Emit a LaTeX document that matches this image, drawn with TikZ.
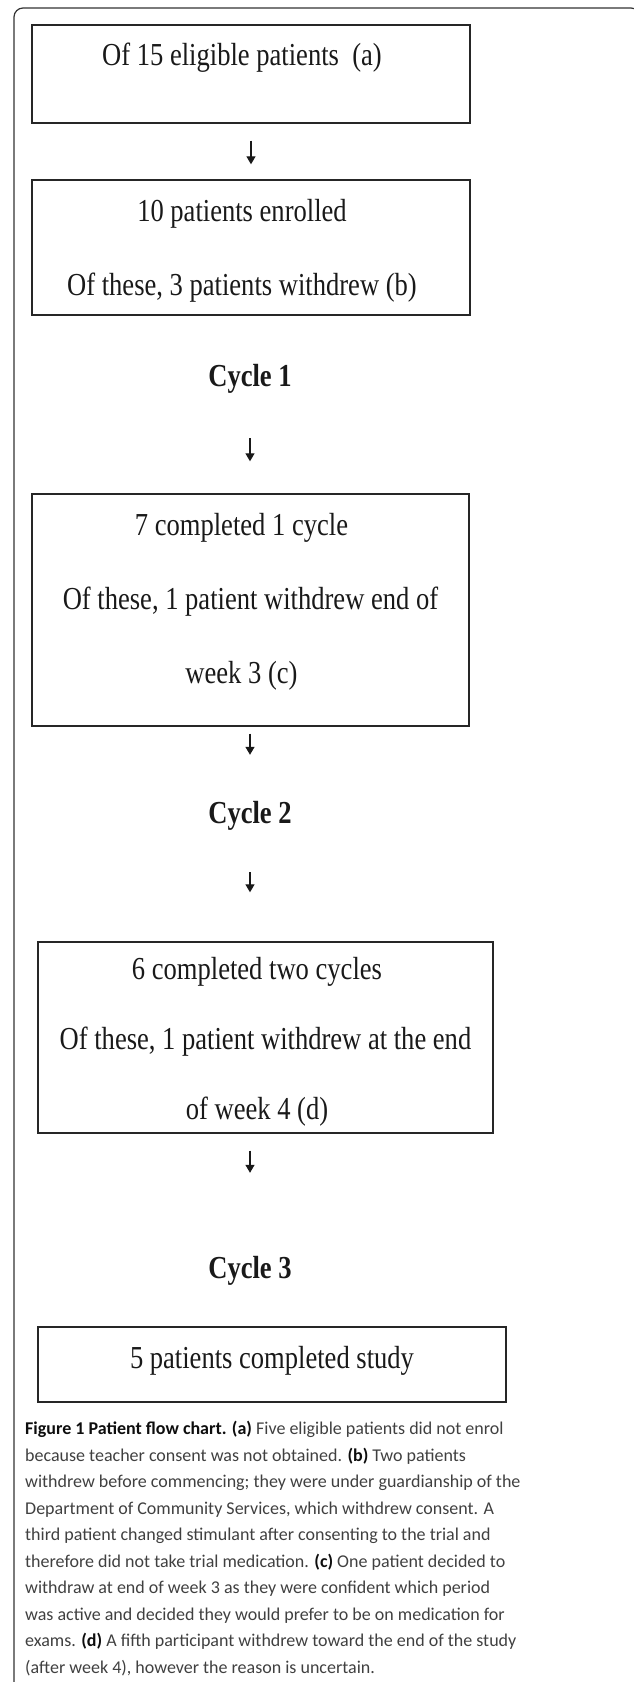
\documentclass[tikz,border=0pt]{standalone}
\usepackage{fontspec}
\usepackage{tikz}
\usetikzlibrary{arrows.meta,calc}
\newfontfamily\chartfont[FakeStretch=0.83]{Liberation Serif}
\newfontfamily\capfont{Carlito}
\tikzset{
	chartbox/.style={draw=black!85, line width=1.4pt, inner sep=0pt, align=center,
		font=\chartfont\fontsize{32}{74}\selectfont, text=black!90},
	cyclelabel/.style={inner sep=0pt, font=\chartfont\bfseries\fontsize{32}{38}\selectfont,
		text=black!90, text height=24pt, text depth=8pt},
	flowarrow/.style={black!90, line width=1.3pt, -{Triangle[width=9pt,length=8pt]}}
}

\begin{document}
\begin{tikzpicture}[x=1pt,y=-1pt]
\useasboundingbox (0,0) rectangle (633,1682);
\draw[black!80, line width=1.2pt, rounded corners=9pt] (14,1700) -- (14,8) -- (640,8) -- (640,1700);
% boxes
\node[chartbox, minimum width=438pt, text height=40pt, text depth=58pt] (elig) at (251,74) {Of 15 eligible patients\ \ (a)\hspace*{18pt}};
\node[chartbox, minimum width=438pt, text height=115pt, text depth=20pt] (enrol) at (251,247.5) {10 patients enrolled\hspace*{18pt}\\Of these, 3 patients withdrew (b)\hspace*{18pt}};
\node[cyclelabel, anchor=base] (cycA) at (250,386) {Cycle 1};
\node[chartbox, minimum width=437pt, text height=189pt, text depth=43pt] (done1) at (250.5,610) {7 completed 1 cycle\hspace*{18pt}\\Of these, 1 patient withdrew end of\hspace*{18pt}\\week 3 (c)\hspace*{18pt}};
\node[cyclelabel, anchor=base] (cycB) at (250,823) {Cycle 2};
\node[chartbox, minimum width=455pt, font=\chartfont\fontsize{32}{70}\selectfont, text height=177pt, text depth=14pt] (done2) at (265.5,1037.5) {6 completed two cycles\hspace*{17pt}\\Of these, 1 patient withdrew at the end\hspace*{17pt}\\of week 4 (d)\hspace*{17pt}};
\node[cyclelabel, anchor=base] (cycC) at (250,1278) {Cycle 3};
\node[chartbox, minimum width=468pt, text height=41pt, text depth=34pt] (final) at (272,1364.5) {5 patients completed study};
% arrows
\draw[flowarrow, shorten <=17pt, shorten >=15pt] (elig) -- (enrol);
\draw[flowarrow, shorten <=44pt, shorten >=32pt] (cycA) -- (cycA |- done1.north);
\draw[flowarrow, shorten <=7pt, shorten >=44pt] (done1.south -| cycB) -- (cycB);
\draw[flowarrow, shorten <=41pt, shorten >=49pt] (cycB) -- (cycB |- done2.north);
\draw[flowarrow, shorten <=17pt, shorten >=81pt] (done2.south -| cycC) -- (cycC);
% caption
\node[anchor=base west, align=left, inner sep=0pt, font=\capfont\fontsize{18}{26.5}\selectfont, text=black!75] (caption) at (25,1673) {%
{\bfseries\color{black!95}Figure 1 Patient flow chart. (a)} Five eligible patients did not enrol\\
because teacher consent was not obtained. {\bfseries\color{black!95}(b)} Two patients\\
withdrew before commencing; they were under guardianship of the\\
Department of Community Services, which withdrew consent. A\\
third patient changed stimulant after consenting to the trial and\\
therefore did not take trial medication. {\bfseries\color{black!95}(c)} One patient decided to\\
withdraw at end of week 3 as they were confident which period\\
was active and decided they would prefer to be on medication for\\
exams. {\bfseries\color{black!95}(d)} A fifth participant withdrew toward the end of the study\\
(after week 4), however the reason is uncertain.};
\end{tikzpicture}
\end{document}
